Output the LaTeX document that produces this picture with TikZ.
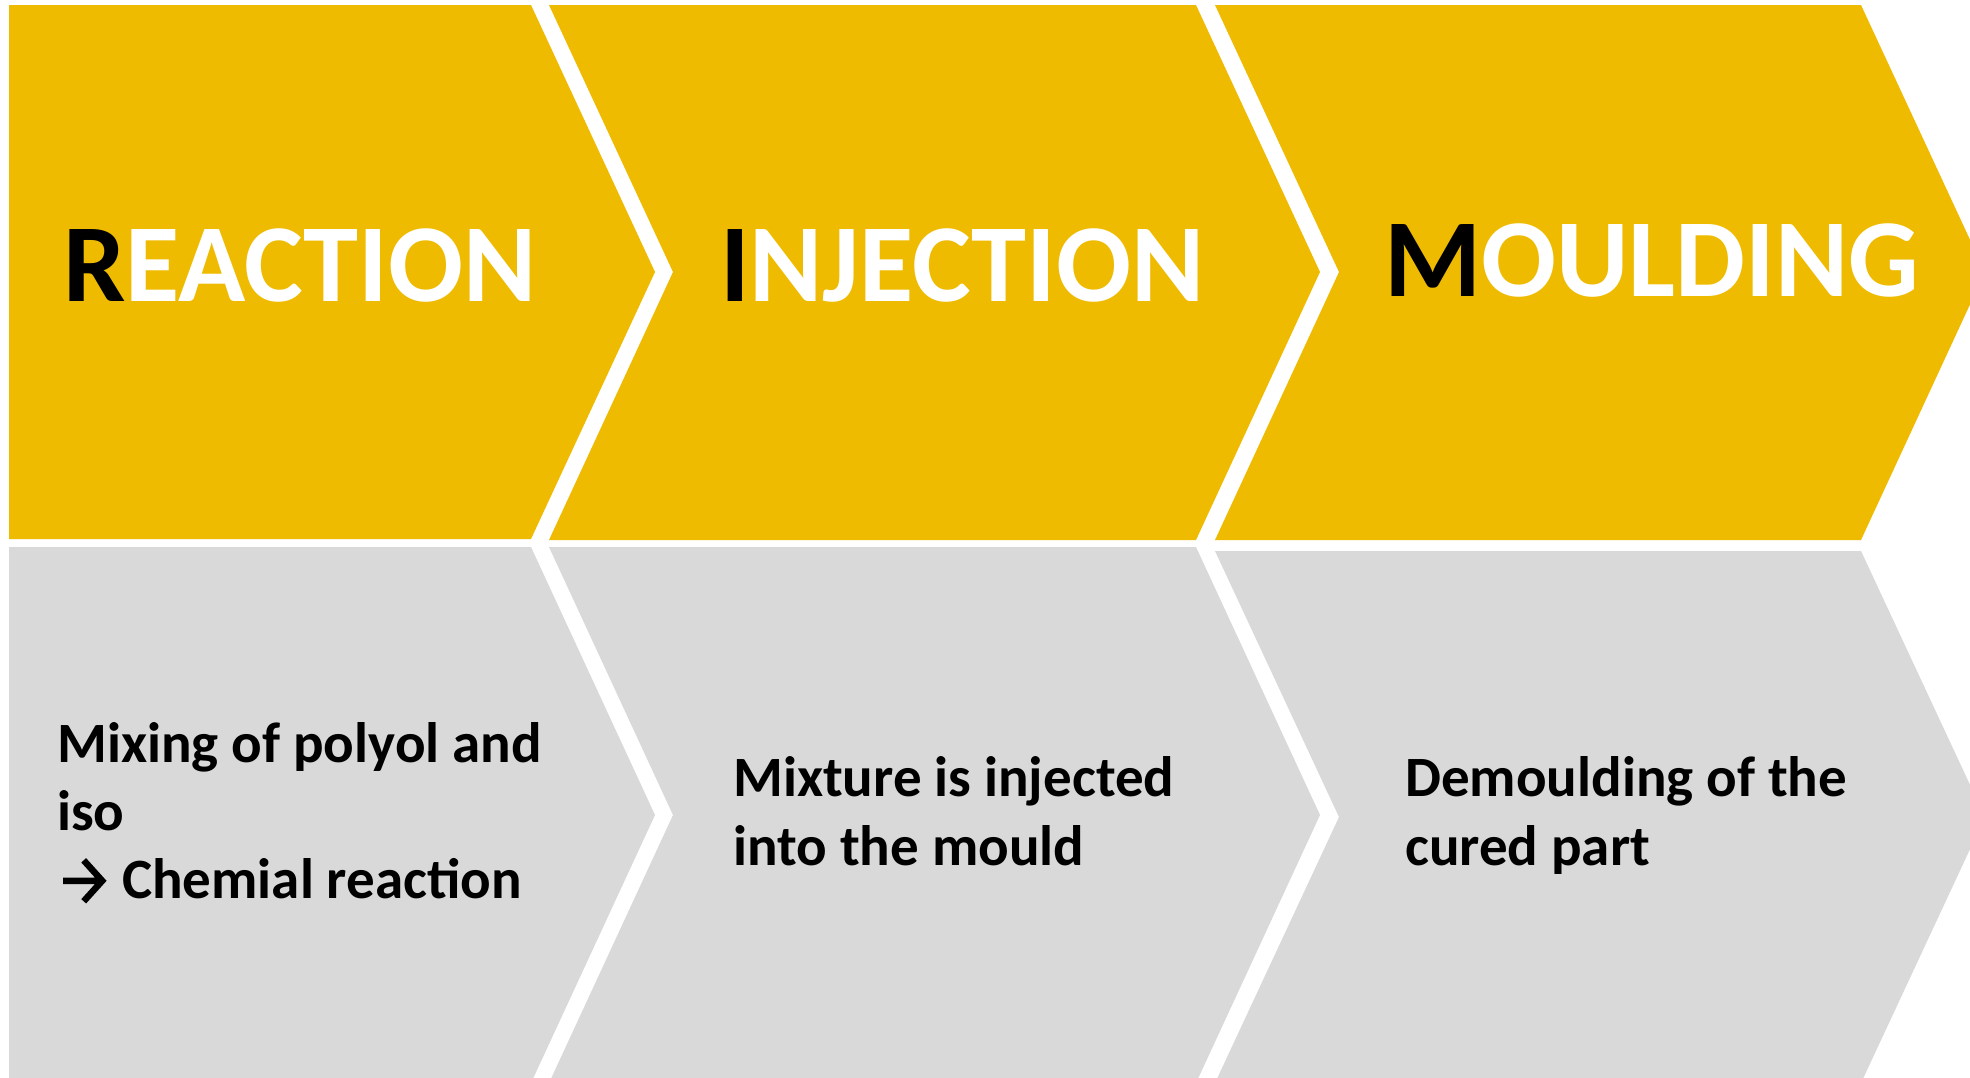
\documentclass[tikz,border=0pt]{standalone}
\usepackage{fontspec}
\setmainfont{Carlito}
\definecolor{stepgold}{RGB}{239,187,0}
\definecolor{stepgrey}{RGB}{217,217,217}
% right arrow sized to the description text
\newcommand\steparrow{\tikz[x=1bp,y=1bp,baseline=0pt]{%
  \useasboundingbox (0,0) rectangle (52,1);
  \draw[line width=6.5bp,line join=miter] (6,17.2) -- (43,17.2)
    (26.5,37.7) -- (45,17.2) -- (26.5,-3.3);}}
\begin{document}
\begin{tikzpicture}[x=1bp,y=-1bp,
  headtext/.style={anchor=base west,inner sep=0pt,text=white,
    font=\fontsize{111bp}{133bp}\selectfont\bfseries},
  bodytext/.style={anchor=base west,inner sep=0pt,text=black,
    font=\fontsize{57bp}{68bp}\selectfont\bfseries}]
\useasboundingbox (0,0) rectangle (1970,1077);
\fill[white] (0,0) rectangle (1970,1077);
\clip (0,0) rectangle (1970,1077);

% upper row of chevrons
\fill[stepgold] (9,5) -- (531,5) -- (655,272) -- (531,539) -- (9,539) -- cycle;
\fill[stepgold] (549,5) -- (1196,5) -- (1320,272) -- (1196,540) -- (549,540) -- (673,272) -- cycle;
\fill[stepgold] (1215,5) -- (1861,5) -- (1985,272) -- (1861,540) -- (1215,540) -- (1339,272) -- cycle;

% lower row of chevrons
\fill[stepgrey] (9,547) -- (531,547) -- (655,815) -- (531,1083) -- (9,1083) -- cycle;
\fill[stepgrey] (549,547) -- (1196,547) -- (1320,815) -- (1196,1083) -- (549,1083) -- (673,815) -- cycle;
\fill[stepgrey] (1215,551) -- (1861,551) -- (1985,817) -- (1861,1083) -- (1215,1083) -- (1339,817) -- cycle;

% step titles
\node[headtext] (reaction) at (63,301) {\textcolor{black}{R}EACTION};
\node[headtext] (injection) at (720,301) {\textcolor{black}{I}NJECTION};
\node[headtext] (moulding) at (1384,296) {\textcolor{black}{M}OULDING};

% step descriptions
\node[bodytext] (mixing) at (57,762) {\vtop{\baselineskip=68bp
  \hbox{Mixing of polyol and}\hbox{iso}\hbox{\steparrow{} Chemial reaction}}};
\node[bodytext] (inject) at (733,796) {\vtop{\baselineskip=69bp
  \hbox{Mixture is injected}\hbox{into the mould}}};
\node[bodytext] (demould) at (1405,796) {\vtop{\baselineskip=69bp
  \hbox{Demoulding of the}\hbox{cured part}}};
\end{tikzpicture}
\end{document}
